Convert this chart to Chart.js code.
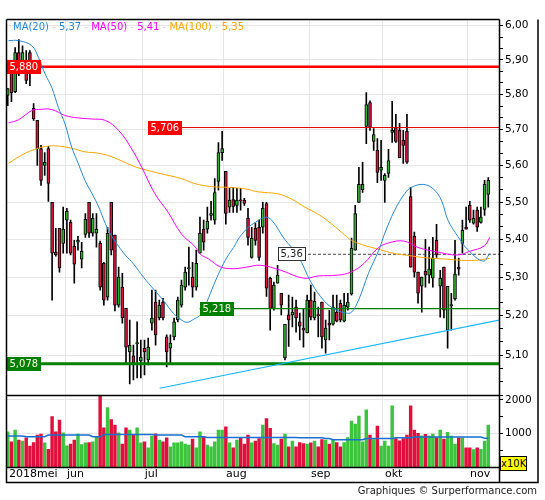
<!DOCTYPE html>
<html><head><meta charset="utf-8">
<script src="https://cdn.jsdelivr.net/npm/chart.js@4.4.1/dist/chart.umd.min.js"></script>
<style>
html,body{margin:0;padding:0;background:#fff;overflow:hidden;}
#wrap{position:relative;width:545px;height:500px;}
#c{position:absolute;left:0;top:0;}
#legend{position:absolute;left:13px;top:21px;font:10px "DejaVu Sans",sans-serif;line-height:12px;white-space:pre;}
#credit{position:absolute;right:8px;top:485px;font:10px "DejaVu Sans",sans-serif;line-height:12px;color:#222;}
#unit{position:absolute;left:500px;top:456px;width:25px;height:13px;background:#ffff00;border:1px solid #000;font:10px "DejaVu Sans",sans-serif;line-height:13px;text-align:center;color:#000;}
</style></head><body>
<div id="wrap"><canvas id="c" width="545" height="500"></canvas>
<div id="legend"></div><div id="unit">x10K</div><div id="credit">Graphiques © Surperformance.com</div></div>
<script>
// ---------- data ----------
const monthLabels = ['2018mei','jun','jul','aug','sep','okt','nov'];
const monthFirstIdx = [0,16,37,59,82,102,125];
const yTickValues = [5.10,5.20,5.30,5.40,5.50,5.60,5.70,5.80,5.90,6.00];
const volTickValues = [500,1000,1500,2000];
const volTickLabels = [1000,2000];

const openP = [5.797,5.883,5.808,5.921,5.892,5.873,5.921,5.760,5.726,5.647,
5.600,5.647,5.499,5.366,5.429,5.389,5.451,5.445,5.381,5.392,
5.347,5.413,5.499,5.416,5.416,5.389,5.336,5.248,5.499,5.411,
5.227,5.274,5.219,5.108,5.098,5.129,5.085,5.117,5.088,5.181,
5.235,5.194,5.235,5.146,5.117,5.146,5.189,5.227,5.274,5.322,
5.300,5.274,5.363,5.427,5.427,5.464,5.451,5.556,5.636,5.584,
5.486,5.507,5.491,5.505,5.505,5.456,5.352,5.429,5.432,5.432,
5.496,5.297,5.219,5.284,5.258,5.093,5.202,5.202,5.222,5.184,
5.168,5.156,5.240,5.194,5.202,5.235,5.138,5.181,5.178,5.209,
5.232,5.186,5.222,5.256,5.371,5.499,5.534,5.709,5.777,5.667,
5.642,5.587,5.559,5.578,5.692,5.706,5.698,5.670,5.695,5.515,
5.408,5.313,5.276,5.315,5.305,5.297,5.397,5.276,5.326,5.163,
5.226,5.243,5.326,5.389,5.432,5.491,5.443,5.478,5.445,5.480,
5.521];
const highP = [5.817,5.883,5.936,5.959,5.941,5.927,5.927,5.774,5.726,5.656,
5.636,5.653,5.499,5.429,5.429,5.486,5.483,5.451,5.397,5.408,
5.392,5.469,5.499,5.469,5.469,5.395,5.339,5.432,5.499,5.411,
5.326,5.310,5.219,5.189,5.125,5.184,5.138,5.138,5.143,5.266,
5.266,5.240,5.245,5.151,5.151,5.194,5.248,5.292,5.326,5.379,
5.339,5.371,5.459,5.451,5.486,5.502,5.564,5.664,5.695,5.584,
5.537,5.540,5.537,5.537,5.510,5.483,5.432,5.443,5.451,5.499,
5.499,5.300,5.287,5.331,5.258,5.178,5.253,5.248,5.240,5.207,
5.219,5.253,5.279,5.261,5.222,5.235,5.189,5.214,5.253,5.253,
5.240,5.258,5.258,5.403,5.491,5.595,5.609,5.805,5.782,5.703,
5.675,5.670,5.578,5.645,5.780,5.743,5.718,5.698,5.743,5.540,
5.419,5.313,5.300,5.400,5.379,5.405,5.440,5.318,5.326,5.276,
5.258,5.397,5.350,5.451,5.486,5.502,5.478,5.486,5.486,5.559,
5.567];
const lowP = [5.768,5.779,5.805,5.854,5.869,5.831,5.825,5.726,5.600,5.545,
5.573,5.502,5.240,5.355,5.313,5.363,5.363,5.358,5.284,5.371,
5.324,5.405,5.405,5.408,5.379,5.266,5.227,5.240,5.358,5.212,
5.222,5.181,5.080,5.028,5.038,5.043,5.043,5.050,5.075,5.163,
5.125,5.189,5.189,5.070,5.080,5.138,5.184,5.222,5.266,5.279,
5.248,5.266,5.363,5.371,5.416,5.451,5.440,5.532,5.614,5.440,
5.472,5.472,5.472,5.478,5.491,5.384,5.350,5.384,5.344,5.416,
5.250,5.163,5.214,5.284,5.202,5.088,5.122,5.171,5.158,5.138,
5.120,5.156,5.189,5.189,5.146,5.117,5.105,5.138,5.176,5.184,
5.184,5.184,5.214,5.253,5.371,5.499,5.526,5.661,5.698,5.642,
5.553,5.559,5.499,5.567,5.664,5.664,5.622,5.606,5.606,5.326,
5.300,5.232,5.209,5.274,5.284,5.274,5.352,5.196,5.194,5.117,
5.163,5.240,5.305,5.363,5.427,5.445,5.440,5.421,5.443,5.464,
5.486];
const closeP = [5.817,5.805,5.921,5.858,5.921,5.840,5.876,5.730,5.647,5.559,
5.609,5.551,5.363,5.358,5.324,5.427,5.475,5.363,5.334,5.397,
5.368,5.453,5.416,5.456,5.427,5.274,5.240,5.416,5.371,5.227,
5.300,5.194,5.120,5.125,5.080,5.131,5.095,5.108,5.120,5.194,
5.151,5.227,5.194,5.108,5.130,5.184,5.240,5.279,5.313,5.324,
5.274,5.336,5.416,5.392,5.448,5.469,5.526,5.636,5.647,5.469,
5.505,5.488,5.505,5.503,5.496,5.405,5.403,5.397,5.352,5.483,
5.271,5.219,5.279,5.305,5.227,5.178,5.189,5.209,5.194,5.173,
5.163,5.240,5.196,5.237,5.200,5.146,5.168,5.176,5.222,5.186,
5.189,5.227,5.235,5.376,5.469,5.548,5.548,5.771,5.706,5.686,
5.581,5.595,5.573,5.614,5.698,5.667,5.622,5.656,5.609,5.326,
5.313,5.258,5.300,5.305,5.321,5.350,5.358,5.297,5.214,5.276,
5.228,5.308,5.321,5.424,5.427,5.451,5.456,5.432,5.459,5.548,
5.559];
const volume = [1050,750,1100,800,770,870,620,730,950,980,
720,530,1500,1050,1400,1020,630,680,800,980,
670,720,730,750,900,2130,1170,1770,1410,1250,
1020,680,1170,1100,950,1170,720,750,570,920,
990,800,750,870,600,720,720,750,680,650,
830,570,1050,900,650,600,750,1100,1100,1200,
720,570,800,870,680,950,720,770,850,1250,
1440,1150,700,650,830,980,600,770,600,730,
700,680,720,770,600,820,800,680,800,730,
600,730,880,1370,1280,1520,750,1700,950,820,
1220,620,770,620,1820,850,780,850,950,1820,
1100,1000,930,970,920,980,880,1100,830,1030,
920,680,870,870,570,570,520,570,530,770,
1250];
const volMA = [920,920,920,920,920,900,900,900,900,900,
900,950,950,950,950,950,950,950,950,950,
950,950,950,900,900,900,970,970,970,970,
970,970,970,970,970,970,970,970,970,970,
950,950,950,950,950,950,950,950,900,900,
900,900,900,900,880,880,880,880,880,880,
880,880,880,880,880,880,880,880,880,880,
880,880,880,880,880,880,880,880,880,870,
870,870,870,870,870,870,850,850,810,810,
810,810,810,810,810,810,810,850,850,850,
850,850,850,850,850,870,870,870,870,870,
890,890,890,890,890,890,890,890,890,890,
890,890,890,890,890,890,890,890,890,860,
860];
// moving averages: [candle index, value]
const ma20 = [[0.2,5.956],[2.9,5.956],[6.5,5.941],[8.3,5.907],[10.1,5.859],[11.9,5.820],[13.7,5.763],[15.5,5.716],[17.3,5.651],[19.1,5.605],[20.9,5.559],[22.8,5.523],[24.6,5.487],[26.4,5.442],[28.2,5.407],[30.0,5.381],[31.8,5.358],[34.0,5.335],[36.7,5.300],[39.5,5.268],[42.2,5.238],[44.9,5.205],[46.7,5.191],[48.5,5.183],[50.3,5.191],[52.1,5.202],[53.9,5.236],[55.7,5.279],[57.5,5.318],[59.3,5.352],[61.1,5.378],[62.7,5.405],[65.1,5.432],[67.0,5.445],[69.5,5.459],[71.4,5.451],[74.9,5.400],[78.4,5.358],[82.2,5.284],[85.7,5.237],[88.4,5.217],[91.4,5.207],[93.0,5.209],[94.9,5.240],[97.6,5.310],[100.4,5.371],[102.0,5.416],[104.7,5.478],[107.4,5.523],[109.2,5.540],[112.4,5.548],[115.1,5.536],[117.3,5.505],[119.1,5.451],[121.8,5.407],[124.6,5.371],[128.6,5.342],[130.4,5.362]];
const ma50 = [[0.2,5.719],[2.9,5.728],[6.5,5.754],[8.3,5.757],[11.9,5.757],[15.5,5.740],[19.1,5.733],[22.8,5.730],[26.4,5.726],[30.0,5.698],[33.6,5.645],[36.2,5.596],[39.8,5.523],[43.4,5.472],[47.0,5.414],[50.7,5.380],[52.1,5.360],[54.3,5.348],[57.5,5.327],[61.1,5.322],[64.5,5.326],[68.4,5.331],[73.8,5.318],[80.1,5.297],[84.0,5.303],[89.2,5.305],[92.8,5.313],[96.4,5.336],[100.0,5.375],[103.0,5.390],[107.2,5.395],[111.0,5.378],[116.3,5.366],[121.7,5.358],[125.0,5.368],[128.9,5.382],[130.4,5.405]];
const ma100 = [[0.2,5.606],[4.7,5.634],[8.3,5.648],[11.0,5.654],[13.7,5.654],[17.3,5.648],[20.9,5.638],[24.6,5.634],[28.2,5.624],[33.6,5.600],[36.2,5.591],[41.6,5.577],[47.0,5.564],[50.7,5.550],[55.2,5.542],[59.7,5.540],[64.2,5.536],[67.0,5.529],[69.5,5.526],[73.2,5.522],[76.8,5.508],[80.4,5.486],[84.0,5.467],[87.6,5.441],[91.2,5.411],[93.0,5.397],[95.7,5.386],[100.4,5.373],[104.7,5.362],[108.3,5.357],[111.9,5.352],[115.5,5.349],[119.1,5.347],[122.8,5.344],[126.4,5.344],[130.4,5.349]];
const maNames = ['MA(20)','MA(50)','MA(100)'];
const maLast = [5.37,5.41,5.35];
const trendX = [41.1,133.2];
const trendY = [5.017,5.189];
const levelValues = [5.880,5.706,5.218,5.078,5.36];
const levelLabels = ['5,880','5,706','5,218','5,078','5,36'];
const levelFrom = [null,37.9,51.9,null,73.1];

// ---------- styles ----------
const X_MIN = -0.2, X_MAX = 132.9, Y_MIN = 5.0, Y_MAX = 6.017, V_MAX = 2140;
const maColors = ['#2688d8','#ff00ff','#ffa500'];
const levelStyle = [
  {color:'#ff0000', width:2.5, bg:'#ff0000', fg:'#ffffff'},
  {color:'#e00000', width:1, bg:'#ff0000', fg:'#ffffff'},
  {color:'#008000', width:1.2, bg:'#008000', fg:'#ffffee'},
  {color:'#008000', width:3, bg:'#008000', fg:'#ffffee'},
  {color:'#444444', width:1, dash:[3,2], bg:'#ffffff', fg:'#222222', border:'#333333'}
];
const upColor = '#2fb22f', downColor = '#dc143c';
const volUp = '#3cc43c', volDown = '#e0103c';
const FONT = '"DejaVu Sans", sans-serif';
Chart.defaults.font.family = FONT;

// legend
document.getElementById('legend').innerHTML = maNames.map((n,i)=>
  `<span style="color:${maColors[i]}">${n}</span><span style="color:#cfcfcf"> - </span><span style="color:${maColors[i]}">${maLast[i].toFixed(2).replace('.',',')}</span>`
).join('<span style="color:#cfcfcf"> - </span>');

const isUp = i => closeP[i] >= openP[i];
const datasets = [];
maColors.forEach((c,k)=>{
  const src = [ma20,ma50,ma100][k];
  datasets.push({type:'line', yAxisID:'y', order:1, data:src.map(p=>({x:p[0],y:p[1]})),
    borderColor:c, borderWidth:1, pointRadius:0, tension:0.4, fill:false});
});
datasets.push({type:'line', yAxisID:'y', order:1, data:trendX.map((x,i)=>({x, y:trendY[i]})),
  borderColor:'#19b5fe', borderWidth:1.2, pointRadius:0, fill:false});
levelValues.forEach((v,i)=>{
  const s = levelStyle[i];
  datasets.push({type:'line', yAxisID:'y', order:3,
    data:[{x: levelFrom[i]===null ? X_MIN : levelFrom[i], y:v},{x:X_MAX, y:v}],
    borderColor:s.color, borderWidth:s.width, borderDash:s.dash||[], pointRadius:0, fill:false});
});
// candle bodies
datasets.push({type:'bar', yAxisID:'y', order:4, grouped:false,
  data:openP.map((o,i)=>({x:i, y:[o, closeP[i]]})),
  backgroundColor:openP.map((o,i)=>isUp(i)?upColor:downColor),
  borderColor:'#000', borderWidth:1, borderSkipped:false, barThickness:3, minBarLength:1});
// wicks
datasets.push({type:'bar', yAxisID:'y', order:5, grouped:false,
  data:highP.map((h,i)=>({x:i, y:[lowP[i], h]})),
  backgroundColor:'#000', borderWidth:0, barThickness:1});
// volume
datasets.push({type:'bar', yAxisID:'yv', order:6, grouped:false,
  data:volume.map((v,i)=>({x:i, y:v})),
  backgroundColor:volume.map((v,i)=>isUp(i)?volUp:volDown), borderWidth:0, barThickness:2.8});
datasets.push({type:'line', yAxisID:'yv', order:1, data:volMA.map((v,i)=>({x:i,y:v})),
  borderColor:'#1a6fd0', borderWidth:1.5, pointRadius:0, fill:false});

const isMajor = v => yTickValues.some(m=>Math.abs(m-v)<1e-6);

const levelPlugin = {
  id:'levelLabels',
  afterDatasetsDraw(chart){
    const {ctx, chartArea, scales:{x, y}} = chart;
    ctx.save();
    ctx.font = '10px ' + FONT;
    ctx.textBaseline = 'middle';
    ctx.textAlign = 'left';
    levelValues.forEach((v,i)=>{
      const s = levelStyle[i];
      const px = Math.round(levelFrom[i]===null ? chartArea.left : x.getPixelForValue(levelFrom[i]));
      const py = Math.round(y.getPixelForValue(v));
      const w = Math.ceil(ctx.measureText(levelLabels[i]).width) + 5, h = 14;
      ctx.fillStyle = s.bg;
      ctx.fillRect(px, py-h/2, w, h);
      if (s.border){ ctx.strokeStyle = s.border; ctx.lineWidth = 1; ctx.strokeRect(px+0.5, py-h/2+0.5, w-1, h-1); }
      ctx.fillStyle = s.fg;
      ctx.fillText(levelLabels[i], px+2.5, py+0.5);
    });
    ctx.restore();
  }
};
const framePlugin = {
  id:'frame',
  afterDraw(chart){
    const {ctx, chartArea:ca, scales:{y}} = chart;
    ctx.save();
    ctx.strokeStyle = '#000'; ctx.lineWidth = 1.5;
    const L = ca.left-0.5, T = ca.top-0.5, R = ca.right+0.5, M = Math.round(y.bottom)+0.5,
          V = ca.bottom+0.5, B = ca.bottom+15.5, OR = ca.right+39;
    ctx.beginPath();
    ctx.moveTo(L,T); ctx.lineTo(R,T);
    ctx.moveTo(L,T); ctx.lineTo(L,B); ctx.lineTo(OR,B); ctx.lineTo(OR,T);
    ctx.moveTo(R,T); ctx.lineTo(R,B);
    ctx.moveTo(L,M); ctx.lineTo(R,M);
    ctx.moveTo(L,V); ctx.lineTo(R,V);
    ctx.stroke();
    ctx.restore();
  }
};

new Chart(document.getElementById('c'), {
  type:'bar',
  data:{datasets},
  plugins:[levelPlugin, framePlugin],
  options:{
    responsive:false, animation:false, devicePixelRatio:1,
    layout:{padding:{left:7, top:20, right:7, bottom:18}},
    plugins:{legend:{display:false}, tooltip:{enabled:false}},
    scales:{
      x:{
        type:'linear', min:X_MIN, max:X_MAX, position:'bottom', offset:false,
        afterBuildTicks: s => { s.ticks = monthFirstIdx.map((v,i)=>({value: i===0 ? X_MIN : v-0.5})); },
        afterFit: s => { s.height = 15; },
        ticks:{autoSkip:false, maxRotation:0, minRotation:0, align:'start', labelOffset:2, padding:1,
          font:{size:11, family:FONT}, color:'#000', callback:(v,i)=>monthLabels[i]},
        grid:{offset:false, drawTicks:false, color: c => c.index===0 ? 'rgba(0,0,0,0)' : '#e6e6e6'},
        border:{display:false}
      },
      y:{
        type:'logarithmic', position:'right', stack:'panes', stackWeight:376, min:Y_MIN, max:Y_MAX,
        afterBuildTicks: s => {
          const all = [Y_MIN, ...yTickValues], t = [];
          for (let k=0;k<all.length-1;k++){ const a=all[k], b=all[k+1]; t.push({value:a},{value:a+(b-a)/3},{value:a+2*(b-a)/3}); }
          t.push({value:all[all.length-1]});
          s.ticks = t;
        },
        afterFit: s => { s.width = 39; },
        ticks:{autoSkip:false, padding:2, font:{size:10.5, family:FONT}, color:'#000',
          callback: v => isMajor(v) ? v.toFixed(2).replace('.',',') : ''},
        grid:{color: c => (c.tick && isMajor(c.tick.value)) ? '#e6e6e6' : 'rgba(0,0,0,0)', tickColor:'#000', tickLength:4},
        border:{display:false}
      },
      yv:{
        type:'linear', position:'right', stack:'panes', stackWeight:72, min:0, max:V_MAX,
        afterBuildTicks: s => { s.ticks = volTickValues.map(v=>({value:v})); },
        afterFit: s => { s.width = 39; },
        ticks:{autoSkip:false, padding:2, font:{size:10.5, family:FONT}, color:'#000',
          callback: v => volTickLabels.includes(v) ? String(v) : ''},
        grid:{color: c => (c.tick && volTickLabels.includes(c.tick.value)) ? '#e6e6e6' : 'rgba(0,0,0,0)', tickColor:'#000', tickLength:4},
        border:{display:false}
      }
    }
  }
});
</script></body></html>
